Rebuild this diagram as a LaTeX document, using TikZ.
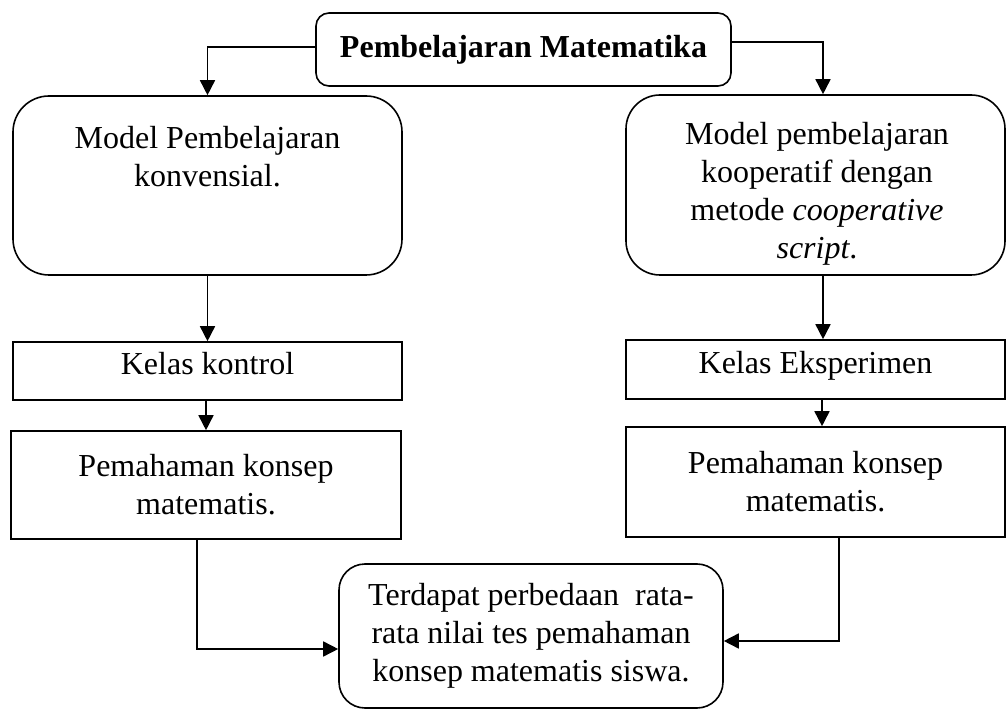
\documentclass[tikz,border=0pt]{standalone}
\usepackage{fontspec}
\setmainfont{Liberation Serif}
\usetikzlibrary{arrows.meta}
\begin{document}
\begin{tikzpicture}[x=0.5pt,y=-0.5pt,
  every node/.style={font=\fontsize{16}{19}\selectfont, align=center, inner sep=0pt},
  box/.style={draw, line width=0.8pt},
  rbox/.style={box, rounded corners=#1},
  onel/.style={text height=11pt, text depth=7.5pt},
  arr/.style={line width=0.8pt, -{Triangle[width=7.5pt,length=7.5pt]}},
  ln/.style={line width=0.8pt}]
\useasboundingbox (0,0) rectangle (1007,711);
% boxes
\node[rbox=6.5pt, minimum width=207.5pt, minimum height=36.5pt] (top) at (523.5,49.5) {\textbf{Pembelajaran Matematika}};
\node[rbox=18pt, minimum width=194.5pt, minimum height=89.5pt] (L1) at (207.5,185.5) {};
\node (L1t) at (207.5,157) {Model Pembelajaran\\konvensial.};
\node[rbox=17pt, minimum width=189.5pt, minimum height=90pt] (R1) at (815.5,185) {};
\node (R1t) at (817,194) {Model pembelajaran\\kooperatif dengan\\metode \textit{cooperative}\\\textit{script}.};
\node[box, onel, minimum width=194.5pt, minimum height=29pt] (L2) at (207.5,371) {Kelas kontrol};
\node[box, onel, minimum width=189.5pt, minimum height=29.5pt] (R2) at (815.5,369.5) {Kelas Eksperimen};
\node[box, minimum width=195pt, minimum height=54pt] (L3) at (206,485) {Pemahaman konsep\\matematis.};
\node[box, minimum width=189.5pt, minimum height=55pt] (R3) at (815.5,482) {Pemahaman konsep\\matematis.};
\node[rbox=13pt, minimum width=192pt, minimum height=72pt] (B) at (531,636) {Terdapat perbedaan\ \ rata-\\rata nilai tes pemahaman\\konsep matematis siswa.};
% connectors
\draw[arr] (top.west |- {(0,47)}) -| (L1.north);
\draw[arr] (top.east |- {(0,42)}) -| (R1.north -| {(823,0)});
\draw[arr] (L1.south) -- (L2.north);
\draw[arr] (L2.south -| L3.north) -- (L3.north);
\draw[arr] (R1.south -| {(823,0)}) -- (R2.north -| {(823,0)});
\draw[arr] (R2.south -| {(822,0)}) -- (R3.north -| {(822,0)});
\draw[arr] (L3.south -| {(197,0)}) |- (B.west |- {(0,649)});
\draw[arr] (R3.south -| {(839,0)}) |- (B.east |- {(0,641)});
\end{tikzpicture}
\end{document}
